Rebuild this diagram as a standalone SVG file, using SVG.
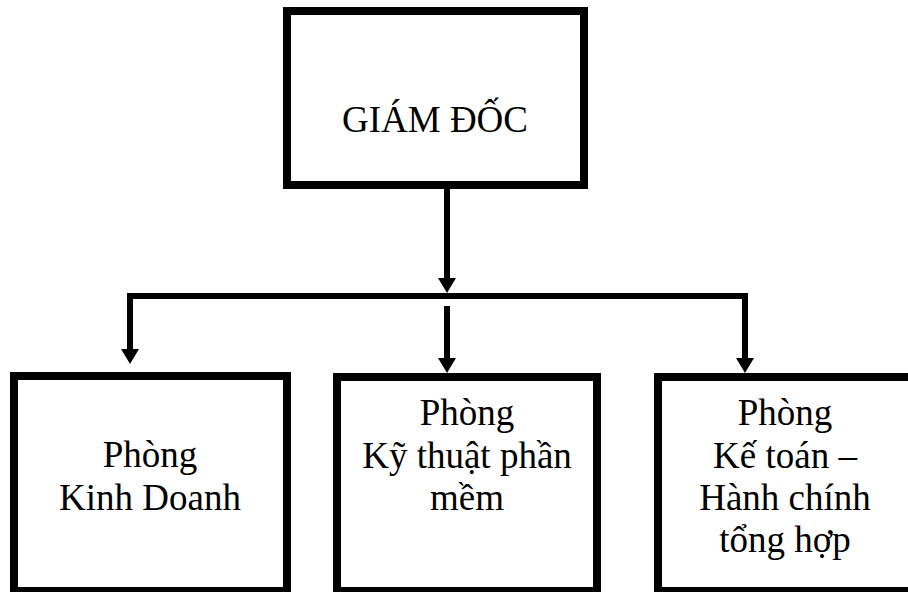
<svg xmlns="http://www.w3.org/2000/svg" width="908" height="592" viewBox="0 0 908 592">
<style>
.box{fill:#fff;stroke:#000;stroke-width:8}
.conn{fill:none;stroke:#000;stroke-width:6;stroke-linejoin:miter}
.t{font-family:"Liberation Serif","Times New Roman",serif;fill:#000;text-anchor:middle}
.big{font-size:37px}
.sm{font-size:37px}
</style>
<defs>
<marker id="arr" viewBox="0 0 15 18" refX="0" refY="9" markerWidth="15" markerHeight="18" markerUnits="userSpaceOnUse" orient="auto">
<path d="M0,0 L15,9 L0,18 z" fill="#000"/>
</marker>
</defs>
<rect width="908" height="592" fill="#fff"/>
<g id="connectors">
<path class="conn" d="M447,189 V278" marker-end="url(#arr)"/>
<path class="conn" d="M130,349 V296 H745 V358" marker-end="url(#arr)"/>
<path class="conn" d="M130,300 V349" marker-end="url(#arr)"/>
<path class="conn" d="M447,306 V358" marker-end="url(#arr)"/>
</g>
<g id="giam-doc">
<rect class="box" x="287" y="11" width="297" height="174"/>
<text class="t big" x="435" y="132">GIÁM ĐỐC</text>
</g>
<g id="kinh-doanh">
<rect class="box" x="14" y="376" width="273" height="215"/>
<text class="t sm" x="150" y="467">Phòng</text>
<text class="t sm" x="150" y="510">Kinh Doanh</text>
</g>
<g id="ky-thuat">
<rect class="box" x="337" y="377" width="260" height="214"/>
<text class="t sm" x="467" y="425">Phòng</text>
<text class="t sm" x="467" y="468">Kỹ thuật phần</text>
<text class="t sm" x="467" y="510">mềm</text>
</g>
<g id="ke-toan">
<rect class="box" x="658" y="377" width="254" height="214"/>
<text class="t sm" x="785" y="425">Phòng</text>
<text class="t sm" x="785" y="468">Kế toán –</text>
<text class="t sm" x="785" y="510">Hành chính</text>
<text class="t sm" x="785" y="552">tổng hợp</text>
</g>
</svg>
